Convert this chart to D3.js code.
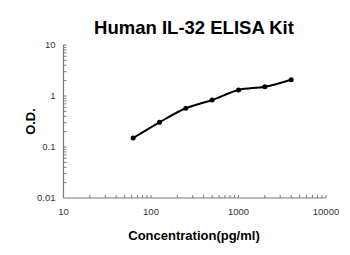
<!DOCTYPE html>
<html>
<head>
<meta charset="utf-8">
<script src="https://cdn.jsdelivr.net/npm/d3@7/dist/d3.min.js"></script>
<style>
  body { margin: 0; background: #fff; }
  svg { display: block; font-family: "Liberation Sans", Arial, sans-serif; }
  .tick-label { font-size: 9.5px; fill: #333; }
</style>
</head>
<body>
<svg id="chart" width="350" height="255"></svg>
<script>
const concentrations = [62.5, 125, 250, 500, 1000, 2000, 4000];
const odValues = [0.150, 0.305, 0.574, 0.835, 1.31, 1.52, 2.09];
const xTicks = [10, 100, 1000, 10000];
const yTicks = [0.01, 0.1, 1, 10];
const yTickLabels = ["0.01", "0.1", "1", "10"];

const svg = d3.select("#chart");
const margin = { left: 63.5, right: 24, top: 45, bottom: 57 };
const W = 350, H = 255;

const x = d3.scaleLog().domain([10, 10000]).range([margin.left, W - margin.right]);
const y = d3.scaleLog().domain([0.01, 10]).range([H - margin.bottom, margin.top]);

// minor ticks for each decade
function minorTicks(lo, hi) {
  const out = [];
  for (let d = lo; d < hi; d *= 10) {
    for (let k = 2; k <= 10; k++) out.push(d * k);
  }
  return out;
}

const axisColor = "#7a7a7a";
const tickLen = 3;

// x axis
const xAxis = svg.append("g").attr("transform", `translate(0,${y(0.01)})`);
xAxis.append("line")
  .attr("x1", x(10)).attr("x2", x(10000))
  .attr("stroke", axisColor).attr("stroke-width", 1.2);
xAxis.selectAll("line.minor")
  .data(minorTicks(10, 10000))
  .join("line")
  .attr("class", "minor")
  .attr("x1", d => x(d)).attr("x2", d => x(d))
  .attr("y1", 0).attr("y2", -tickLen)
  .attr("stroke", axisColor);
xAxis.selectAll("text")
  .data(xTicks)
  .join("text")
  .attr("class", "tick-label")
  .attr("x", d => x(d)).attr("y", 17)
  .attr("text-anchor", "middle")
  .text(d => d);

// y axis
const yAxis = svg.append("g").attr("transform", `translate(${x(10)},0)`);
yAxis.append("line")
  .attr("y1", y(0.01)).attr("y2", y(10))
  .attr("stroke", axisColor).attr("stroke-width", 1.2);
yAxis.selectAll("line.minor")
  .data(minorTicks(0.01, 10))
  .join("line")
  .attr("class", "minor")
  .attr("y1", d => y(d)).attr("y2", d => y(d))
  .attr("x1", 0).attr("x2", tickLen)
  .attr("stroke", axisColor);
yAxis.selectAll("text")
  .data(yTicks)
  .join("text")
  .attr("class", "tick-label")
  .attr("x", -8).attr("y", d => y(d))
  .attr("dy", "0.35em")
  .attr("text-anchor", "end")
  .text((d, i) => yTickLabels[i]);

// curve
const pts = concentrations.map((c, i) => [c, odValues[i]]);
const line = d3.line()
  .x(d => x(d[0]))
  .y(d => y(d[1]))
  .curve(d3.curveCatmullRom.alpha(0.5));

svg.append("path")
  .datum(pts)
  .attr("fill", "none")
  .attr("stroke", "#000")
  .attr("stroke-width", 2)
  .attr("d", line);

svg.selectAll("circle.pt")
  .data(pts)
  .join("circle")
  .attr("class", "pt")
  .attr("cx", d => x(d[0]))
  .attr("cy", d => y(d[1]))
  .attr("r", 2.5)
  .attr("fill", "#000");

// titles
svg.append("text")
  .attr("x", 194).attr("y", 34)
  .attr("text-anchor", "middle")
  .attr("font-weight", "bold")
  .attr("font-size", 18.5)
  .text("Human IL-32 ELISA Kit");

svg.append("text")
  .attr("x", 194).attr("y", 240)
  .attr("text-anchor", "middle")
  .attr("font-weight", "bold")
  .attr("font-size", 13)
  .text("Concentration(pg/ml)");

svg.append("text")
  .attr("transform", `translate(35,${(y(0.01) + y(10)) / 2}) rotate(-90)`)
  .attr("text-anchor", "middle")
  .attr("font-weight", "bold")
  .attr("font-size", 13)
  .text("O.D.");
</script>
</body>
</html>
